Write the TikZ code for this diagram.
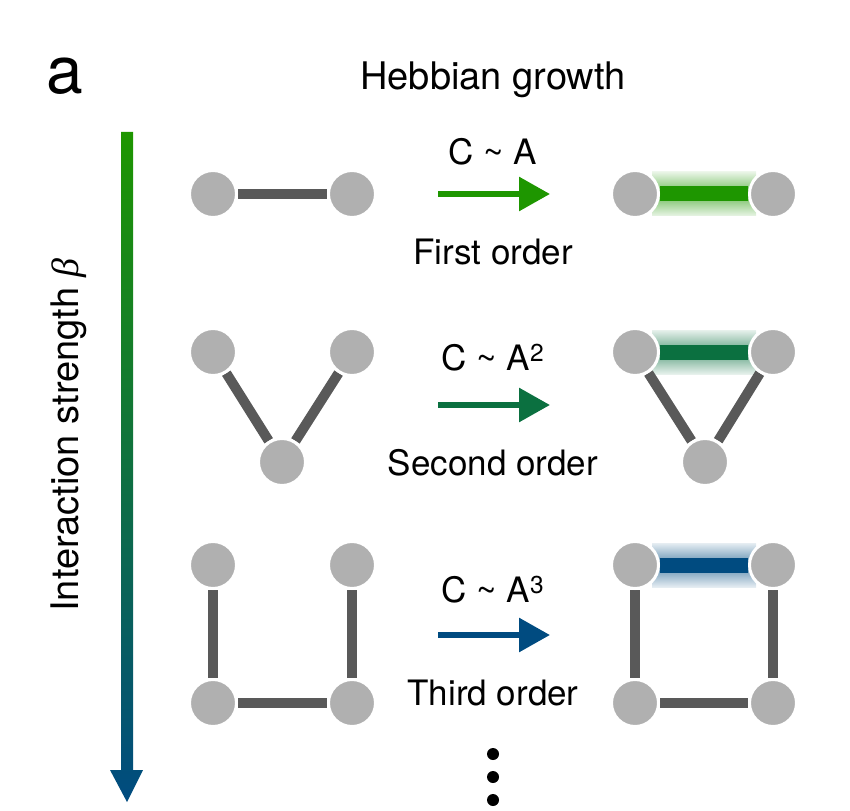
\documentclass[tikz,border=0pt]{standalone}
\usepackage{fontspec}
\setmainfont{TeX Gyre Heros}
\newfontfamily\grk{Liberation Serif}
\usetikzlibrary{arrows.meta}
\pgfdeclarelayer{background}
\pgfsetlayers{background,main}
\definecolor{first}{HTML}{1E9600}
\definecolor{second}{HTML}{0B7040}
\definecolor{third}{HTML}{004B80}
\definecolor{cell}{HTML}{B0B0B0}
\definecolor{wire}{HTML}{595959}
\begin{document}
\begin{tikzpicture}[x=1pt,y=-1pt]
		\tikzstyle{N}=[circle,fill=cell,draw=white,line width=3pt,minimum size=47pt,inner sep=0pt]
		\tikzstyle{W}=[draw=wire,line width=10pt]
		\tikzstyle{T}=[font=\fontsize{35}{40}\selectfont]
		\tikzstyle{F}=[line width=6pt,-{Triangle[length=31pt,width=33pt]}]
		\tikzstyle{H}=[line width=15pt]
		\useasboundingbox (0,0) rectangle (850,810);

		% titles
		\node[font=\fontsize{66}{70}\selectfont] (lbl) at (65,76) {a};
		\node[T,font=\fontsize{38}{42}\selectfont] (title) at (493,80) {Hebbian growth};
		\node[T,font=\fontsize{38}{42}\selectfont,rotate=90] (beta) at (69,435) {Interaction strength {\grk\itshape β}};
		\shade[top color=first,bottom color=third]
		(121,132) -- (133,132) -- (133,770) -- (143,770) -- (127,802) -- (110,770) -- (121,770) -- cycle;

		% first order
		\node[N] (p1a) at (213,194) {};
		\node[N] (p1b) at (352,194) {};
		\node[N] (q1a) at (635,194) {};
		\node[N] (q1b) at (773,194) {};
		\coordinate (f1s) at (438,194);
		\coordinate (f1e) at (550,194);
		\node[T] (c1) at (493,152) {C \textasciitilde{} A};
		\node[T] (o1) at (493,252) {First order};

		% second order
		\node[N] (p2a) at (213,352) {};
		\node[N] (p2b) at (352,352) {};
		\node[N] (p2c) at (282,462) {};
		\node[N] (q2a) at (635,352) {};
		\node[N] (q2b) at (773,352) {};
		\node[N] (q2c) at (705,462) {};
		\coordinate (f2s) at (438,405);
		\coordinate (f2e) at (550,405);
		\node[T] (c2) at (493,358) {C \textasciitilde{} A\textsuperscript{2}};
		\node[T] (o2) at (493,463) {Second order};

		% third order
		\node[N] (p3a) at (213,565) {};
		\node[N] (p3b) at (352,565) {};
		\node[N] (p3c) at (213,703) {};
		\node[N] (p3d) at (352,703) {};
		\node[N] (q3a) at (635,565) {};
		\node[N] (q3b) at (773,565) {};
		\node[N] (q3c) at (635,703) {};
		\node[N] (q3d) at (773,703) {};
		\coordinate (f3s) at (438,635);
		\coordinate (f3e) at (550,635);
		\node[T] (c3) at (493,590) {C \textasciitilde{} A\textsuperscript{3}};
		\node[T] (o3) at (493,693) {Third order};

		% more orders
		\foreach \y/\n in {754/d1,777/d2,800/d3}
		\fill (493,\y) circle (6pt) coordinate (\n);

		\begin{pgfonlayer}{background}
		\foreach \r/\c in {1/first,2/second,3/third}
		\shade[top color=\c!10!white,bottom color=\c!10!white,middle color=\c!65!white]
		([xshift=17pt,yshift=-22pt]q\r a.center) rectangle ([xshift=-17pt,yshift=22pt]q\r b.center);
		\path[W]
		(p1a) edge (p1b)
		(p2a) edge (p2c)
		(p2b) edge (p2c)
		(p3a) edge (p3c)
		(p3b) edge (p3d)
		(p3c) edge (p3d)
		(q2a) edge (q2c)
		(q2b) edge (q2c)
		(q3a) edge (q3c)
		(q3b) edge (q3d)
		(q3c) edge (q3d)
		;
		\draw[H,first] (q1a) -- (q1b);
		\draw[H,second] (q2a) -- (q2b);
		\draw[H,third] (q3a) -- (q3b);
		\end{pgfonlayer}

		\draw[F,first] (f1s) -- (f1e);
		\draw[F,second] (f2s) -- (f2e);
		\draw[F,third] (f3s) -- (f3e);
\end{tikzpicture}
\end{document}
